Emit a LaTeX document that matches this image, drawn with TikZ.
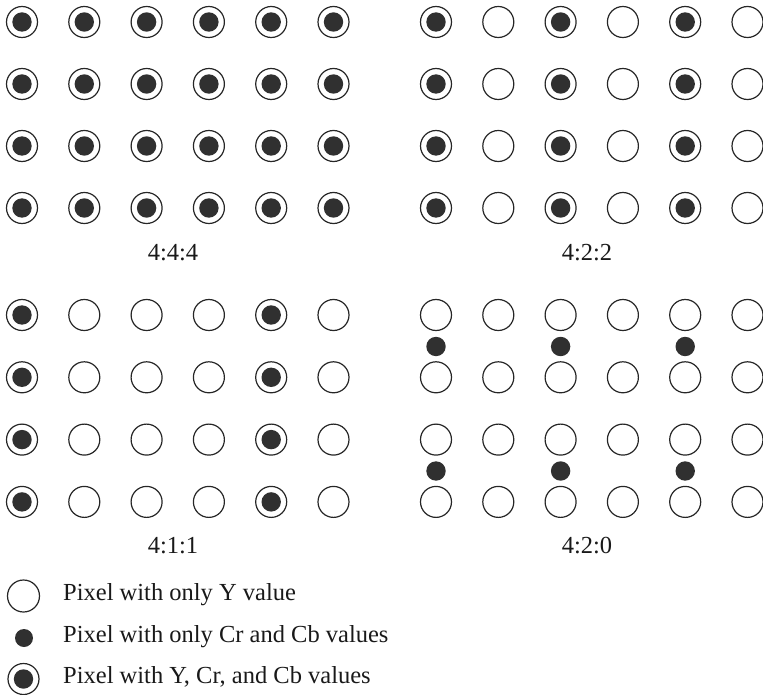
\documentclass[tikz,border=0pt]{standalone}
\usepackage{fontspec}
\setmainfont{Liberation Serif}
\usetikzlibrary{positioning}
\definecolor{chroma}{HTML}{303030}
\begin{document}
\begin{tikzpicture}[
    x=1pt, y=-1pt,
    ypix/.style={draw=black!85, line width=1.2pt, fill=white},
    cpix/.style={fill=chroma},
    ratio/.style={font=\fontsize{24.5}{29}\selectfont, text=black!90, inner sep=0pt, anchor=base},
    legend/.style={font=\fontsize{24.5}{29}\selectfont, text=black!90, inner sep=0pt, anchor=base west}
]
\useasboundingbox (0,0) rectangle (763,695);

    % 1. 4:4:4 (every pixel has Y, Cr and Cb)
    \foreach \i in {0,...,5} {
        \foreach \j in {0,...,3} {
            \draw[ypix] ({22+62.3*\i}, {22+62*\j}) circle (15.5pt);
            \fill[cpix] ({22+62.3*\i}, {22+62*\j}) circle (9.7pt);
        }
    }
    \node[ratio] (r444) at (173,260) {4:4:4};

    % 2. 4:2:2 (chroma on every second column)
    \foreach \i in {0,...,5} {
        \foreach \j in {0,...,3} {
            \draw[ypix] ({436+62.3*\i}, {22+62*\j}) circle (15.5pt);
        }
    }
    \foreach \i in {0,2,4} {
        \foreach \j in {0,...,3} {
            \fill[cpix] ({436+62.3*\i}, {22+62*\j}) circle (9.7pt);
        }
    }
    \node[ratio] (r422) at (587,260) {4:2:2};

    % 3. 4:1:1 (chroma on every fourth column)
    \foreach \i in {0,...,5} {
        \foreach \j in {0,...,3} {
            \draw[ypix] ({22+62.3*\i}, {315+62.3*\j}) circle (15.5pt);
        }
    }
    \foreach \i in {0,4} {
        \foreach \j in {0,...,3} {
            \fill[cpix] ({22+62.3*\i}, {315+62.3*\j}) circle (9.7pt);
        }
    }
    \node[ratio] (r411) at (173,553) {4:1:1};

    % 4. 4:2:0 (chroma between rows)
    \foreach \i in {0,...,5} {
        \foreach \j in {0,...,3} {
            \draw[ypix] ({436+62.3*\i}, {315+62.3*\j}) circle (15.5pt);
        }
    }
    \foreach \i in {0,2,4} {
        \foreach \y in {346.5,471} {
            \fill[cpix] ({436+62.3*\i}, \y) circle (9.7pt);
        }
    }
    \node[ratio] (r420) at (587,553) {4:2:0};

    % 5. Legend
    \draw[ypix] (23.5,596) circle (16pt);
    \fill[cpix] (24,638) circle (9pt);
    \draw[ypix] (23.5,679) circle (15.5pt);
    \fill[cpix] (23.5,679) circle (9.7pt);
    \node[legend] (ly) at (63,600.5) {Pixel with only Y value};
    \node[legend] (lc) at (63,642.5) {Pixel with only Cr and Cb values};
    \node[legend] (lyc) at (63,683.5) {Pixel with Y, Cr, and Cb values};

\end{tikzpicture}
\end{document}
